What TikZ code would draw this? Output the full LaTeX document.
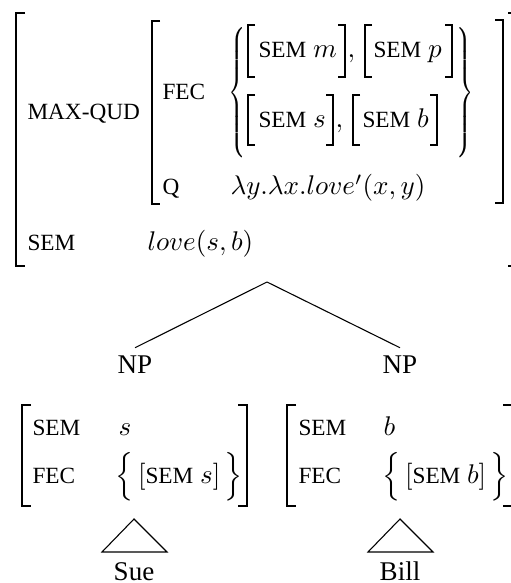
\documentclass[tikz,border=0pt]{standalone}
\usepackage[no-math]{fontspec}
\setmainfont{Liberation Serif}
\newfontfamily\featfont{Liberation Serif}
\usetikzlibrary{positioning}
\newcommand\feat[1]{{\featfont\fontsize{8.6}{10}\selectfont #1}}
\newcommand\tallbrace[2]{\scalebox{0.72}[1]{\delimiterfactor=1000 \delimitershortfall=0pt
  $\left#1\vrule height 26.5pt depth 21.5pt width 0pt\right#2$}}

\begin{document}
\begin{tikzpicture}[
            x=0.37pt, y=-0.37pt,
                L/.style = {inner sep=0pt, anchor=base west},% text of AVMs
                C/.style = {inner sep=0pt, anchor=base},
               NP/.style = {inner sep=2.6pt, anchor=base},
              brk/.style = {line width=0.45pt},
              tri/.style = {line width=0.4pt},
                ]
    \useasboundingbox (0,0) rectangle (511,583);
    % mother AVM
    \draw[brk] (25,13) -| (16,266) -- ++(9,0);
    \draw[brk] (508,13) -| (517,266) -- ++(-9,0);
    \node[L] (maxqud) at (27,120) {\feat{MAX-QUD}};
    \node[L] (sem)    at (27,250) {\feat{SEM}};
    \node[L] (semval) at (147,250) {$love(s,b)$};
    % value of MAX-QUD
    \draw[brk] (160,21) -| (152,204) -- ++(8,0);
    \draw[brk] (495,20) -| (503,203) -- ++(-8,0);
    \node[L] (fec)  at (162,100) {\feat{FEC}};
    \node[L] (q)    at (162,195) {\feat{Q}};
    \node[L] (qval) at (230,195) {$\lambda y.\lambda x.love'(x,y)$};
    \node[inner sep=0pt, anchor=west] (setl) at (228,92.5) {\tallbrace\{.};
    \node[inner sep=0pt, anchor=east] (setr) at (474,92.5) {\tallbrace.\}};
    % members of the FEC set
    \foreach \xa/\xb/\ya/\yb in {248/345/25/77, 365/452/25/77,
                                 248/333/95/145, 353/437/95/145}{
        \draw[brk] (\xa+7,\ya) -| (\xa,\yb) -- ++(7,0);
        \draw[brk] (\xb-7,\ya) -| (\xb,\yb) -- ++(-7,0);
    }
    \node[L] (sm) at (258,58)  {\feat{SEM} $m$};
    \node[L] (sp) at (373,58)  {\feat{SEM} $p$};
    \node[L] (ss) at (258,128) {\feat{SEM} $s$};
    \node[L] (sb) at (362,128) {\feat{SEM} $b$};
    \node[L] (c1) at (347,58)  {$,$};
    \node[L] (c2) at (335,128) {$,$};
    % tree
    \coordinate (mother) at (267,282);
    \node[NP] (np1) at (135,373) {NP};
    \node[NP] (np2) at (400,373) {NP};
    \draw[tri] (mother) -- (np1.north);
    \draw[tri] (mother) -- (np2.north);
    % daughter AVMs
    \draw[brk] (31,405) -| (22,506) -- ++(9,0);
    \draw[brk] (238,405) -| (247,506) -- ++(-9,0);
    \node[L] (sem1)  at (32,435)  {\feat{SEM}};
    \node[L] (sval1) at (118,435) {$s$};
    \node[L] (fec1)  at (32,483)  {\feat{FEC}};
    \node[L] (fval1) at (115,483) {$\Big\{\,[\mbox{\feat{SEM}}\ s]\,\Big\}$};
    \draw[brk] (296,405) -| (287,506) -- ++(9,0);
    \draw[brk] (503,405) -| (512,506) -- ++(-9,0);
    \node[L] (sem2)  at (298,435) {\feat{SEM}};
    \node[L] (sval2) at (383,435) {$b$};
    \node[L] (fec2)  at (298,483) {\feat{FEC}};
    \node[L] (fval2) at (382,483) {$\Big\{\,[\mbox{\feat{SEM}}\ b]\,\Big\}$};
    % words
    \draw[tri] (134,519) -- ++(-32,33) -- ++(65,0) -- cycle;
    \draw[tri] (400,519) -- ++(-32,33) -- ++(65,0) -- cycle;
    \node[C] (sue)  at (134,580) {Sue};
    \node[C] (bill) at (400,580) {Bill};
\end{tikzpicture}
\end{document}
